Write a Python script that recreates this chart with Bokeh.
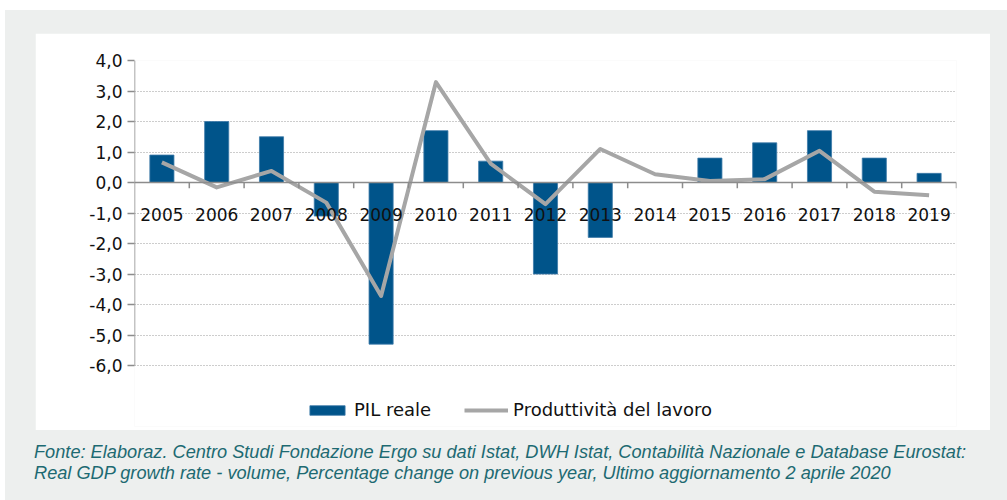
from bokeh.plotting import figure
from bokeh.models import (ColumnDataSource, FactorRange, Range1d, FixedTicker, Span,
                          Legend, LegendItem, CustomJSTickFormatter, Div, Spacer)
from bokeh.layouts import row, column
from bokeh.core.properties import value
from bokeh.embed import file_html
from bokeh.resources import INLINE

years = ["2005", "2006", "2007", "2008", "2009", "2010", "2011", "2012",
         "2013", "2014", "2015", "2016", "2017", "2018", "2019"]
pil_reale = [0.9, 2.0, 1.5, -1.1, -5.3, 1.7, 0.7, -3.0, -1.8, 0.0, 0.8, 1.3, 1.7, 0.8, 0.3]
produttivita = [0.66, -0.16, 0.38, -0.66, -3.72, 3.29, 0.62, -0.71, 1.10, 0.27, 0.05, 0.11, 1.04, -0.30, -0.42]
y_ticks = [-6, -5, -4, -3, -2, -1, 0, 1, 2, 3, 4]
caption_lines = [
    "Fonte: Elaboraz. Centro Studi Fondazione Ergo su dati Istat, DWH Istat, Contabilità Nazionale e Database Eurostat:",
    "Real GDP growth rate - volume, Percentage change on previous year, Ultimo aggiornamento 2 aprile 2020",
]

BAR = "#00548a"
LINE = "#a6a6a6"
AXIS = "#8c8c8c"
BG = "#edefee"
FONT = "DejaVu Sans"

src = ColumnDataSource(dict(year=years, pil=pil_reale, prod=produttivita,
                            edge=[(y, 0.5) for y in years]))

# frame extends below -6 to leave room for the legend inside the white panel
p = figure(width=955, height=397, x_range=FactorRange(*years, range_padding=0),
           y_range=Range1d(-8, 4), output_backend="svg", toolbar_location=None,
           min_border_left=99, min_border_right=34, min_border_top=27, min_border_bottom=4)
p.background_fill_color = "white"
p.border_fill_color = "white"
p.outline_line_color = None

bars = p.vbar(x="year", top="pil", bottom=0, width=0.44, source=src,
              fill_color=BAR, line_color="#3c7aa8", line_width=0.8)
line = p.line(x="year", y="prod", source=src, line_color=LINE, line_width=4,
              line_join="round")

# vertical axis line limited to the tick span
p.segment(x0=[(years[0], -0.5)], y0=[y_ticks[0]], x1=[(years[0], -0.5)], y1=[y_ticks[-1]],
          line_color=AXIS, line_width=1.5)
# zero axis line and category ticks
p.add_layout(Span(location=0, dimension="width", line_color=AXIS, line_width=1.5))
p.segment(x0="edge", y0=0, x1="edge", y1=-0.19, source=src, line_color=AXIS, line_width=1.5)
p.text(x="year", y=0, text="year", source=src, text_align="center",
       text_baseline="alphabetic", y_offset=32, text_font=value(FONT),
       text_font_size="17px", text_color="#111111")

p.xaxis.visible = False
p.xgrid.visible = False

yax = p.yaxis[0]
yax.ticker = FixedTicker(ticks=y_ticks)
yax.formatter = CustomJSTickFormatter(code="return tick.toFixed(1).replace('.', ',');")
yax.axis_line_color = None
yax.major_tick_line_color = AXIS
yax.major_tick_line_width = 1.5
yax.major_tick_out = 7
yax.major_tick_in = 0
yax.minor_tick_line_color = None
yax.major_label_standoff = 5
yax.major_label_text_font = FONT
yax.major_label_text_font_size = "17px"
yax.major_label_text_color = "#111111"

p.ygrid.ticker = FixedTicker(ticks=y_ticks)
p.ygrid.grid_line_color = "#9a9a9a"
p.ygrid.grid_line_dash = "1 2"
p.ygrid.grid_line_width = 1

legend = Legend(items=[LegendItem(label="PIL reale", renderers=[bars]),
                       LegendItem(label="Produttività del lavoro", renderers=[line])],
                orientation="horizontal", location=(171, 6),
                glyph_width=44, glyph_height=12, label_standoff=5, spacing=33,
                padding=0, margin=0, border_line_color=None,
                background_fill_alpha=0, label_text_font=FONT,
                label_text_font_size="18px", label_text_color="#111111")
p.add_layout(legend, "center")

caption = Div(text="<br>".join(caption_lines), width=965, height=46,
              styles={"font-family": "'Liberation Sans', Arial, sans-serif",
                      "font-style": "italic", "font-size": "18.2px",
                      "line-height": "21px", "color": "#1d6a72"})

gray = column(Spacer(height=23), row(Spacer(width=30), p),
              Spacer(height=7), row(Spacer(width=24), caption), Spacer(height=12),
              styles={"background-color": BG})
gray_row = row(gray, Spacer(width=17), styles={"background-color": BG})
layout = column(Spacer(height=10), row(Spacer(width=5), gray_row))

open("out.html", "w").write(file_html(layout, INLINE))
